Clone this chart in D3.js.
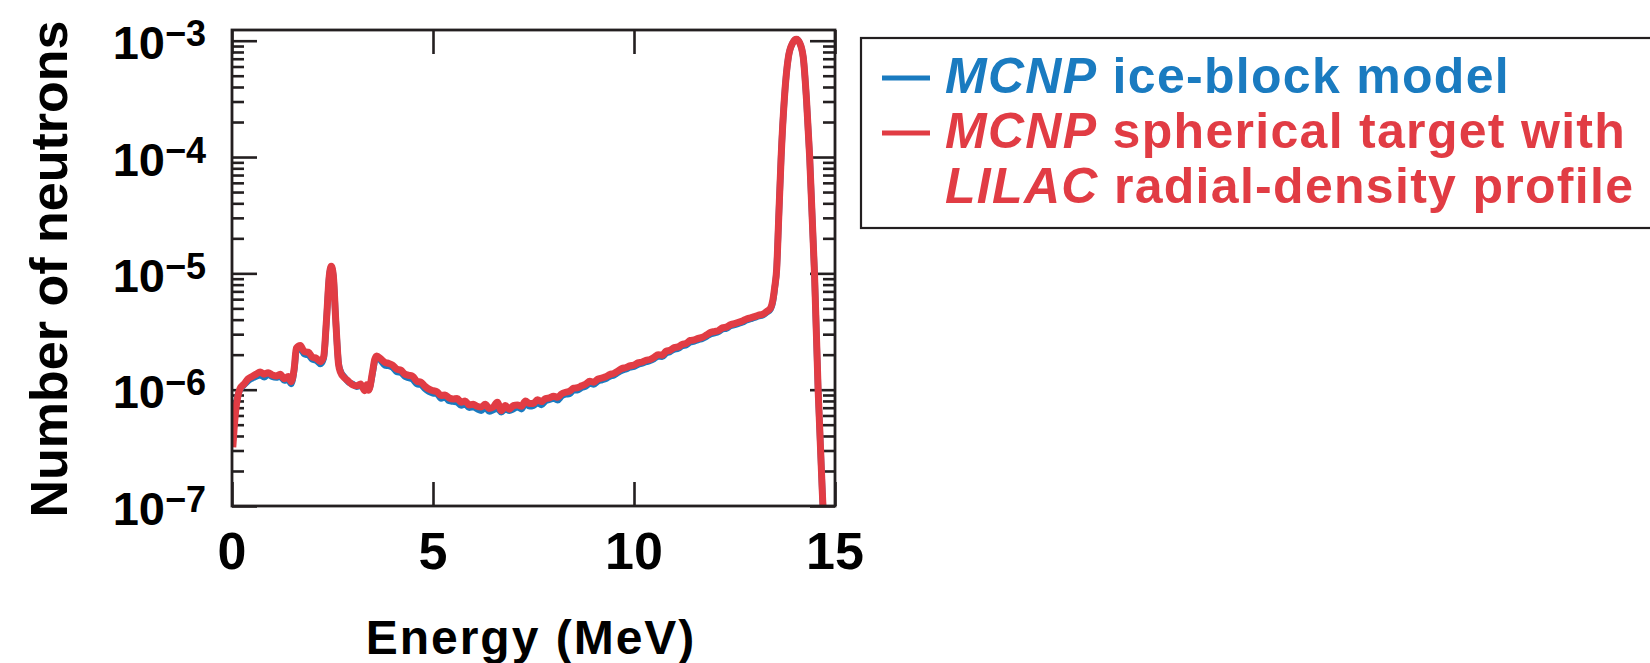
<!DOCTYPE html>
<html lang="en">

<head>
    <meta charset="UTF-8">
    <title>Neutron spectrum</title>
    <script src="https://cdn.jsdelivr.net/npm/d3@7"></script>

    <style>

        body { margin: 0; background: #fff; }

        svg text {
            font-family: "Liberation Sans", Arial, Helvetica, sans-serif;
            font-weight: bold;
        }

        .axis path { display: none; }

        .axis line {
            stroke: #231f20;
            stroke-width: 2.6px;
        }

        .frame {
            fill: none;
            stroke: #231f20;
            stroke-width: 2.8px;
        }

    </style>

</head>

<body>

    <svg width="1650" height="663"></svg>

    <script>

        // energy grid (MeV), shared by both series
        var energy = [0.02, 0.05, 0.1, 0.15, 0.2, 0.3, 0.4, 0.5, 0.6, 0.7, 0.8, 0.9, 1.0, 1.1, 1.2, 1.3, 1.4, 1.47,
            1.55, 1.6, 1.7, 1.8, 1.9, 2.0, 2.1, 2.2, 2.28, 2.35, 2.42, 2.47, 2.52, 2.58, 2.65, 2.7, 2.8, 2.9,
            3.0, 3.1, 3.2, 3.3, 3.35, 3.4, 3.5, 3.55, 3.6, 3.7, 3.8, 3.9, 4.0, 4.1, 4.2, 4.3, 4.4, 4.5, 4.6,
            4.7, 4.8, 4.9, 5.0, 5.1, 5.2, 5.3, 5.4, 5.5, 5.6, 5.7, 5.8, 5.9, 6.0, 6.1, 6.2, 6.3, 6.4, 6.5,
            6.6, 6.7, 6.8, 6.9, 7.0, 7.1, 7.2, 7.3, 7.4, 7.5, 7.6, 7.7, 7.8, 7.9, 8.0, 8.1, 8.2, 8.3, 8.4,
            8.5, 8.6, 8.7, 8.8, 8.9, 9.0, 9.1, 9.2, 9.3, 9.4, 9.5, 9.6, 9.7, 9.8, 9.9, 10.0, 10.1, 10.2,
            10.3, 10.4, 10.5, 10.6, 10.7, 10.8, 10.9, 11.0, 11.1, 11.2, 11.3, 11.4, 11.5, 11.6, 11.7, 11.8,
            11.9, 12.0, 12.1, 12.2, 12.3, 12.4, 12.5, 12.6, 12.7, 12.8, 12.9, 13.0, 13.1, 13.2, 13.3, 13.4,
            13.45, 13.5, 13.55, 13.6, 13.66, 13.74, 13.84, 13.95, 14.04, 14.12, 14.21, 14.29, 14.37, 14.49,
            14.58, 14.7, 14.74];

        // number of neutrons, in units of 1e-6
        var iceBlock = [0.36, 0.50, 0.74, 0.90, 1.00, 1.10, 1.19, 1.25, 1.30, 1.33, 1.28, 1.35, 1.29, 1.27, 1.30, 1.20, 1.22, 1.12,
            1.50, 2.15, 2.25, 2.02, 1.98, 1.82, 1.78, 1.66, 1.85, 3.9, 9.4, 11.3, 9.5, 4.0, 1.70, 1.45, 1.28, 1.16,
            1.12, 1.06, 1.08, 1.02, 1.05, 1.00, 1.40, 1.75, 1.88, 1.78, 1.62, 1.60, 1.55, 1.42, 1.40, 1.30, 1.26, 1.22, 1.12,
            1.10, 1.02, 0.96, 0.93, 0.92, 0.84, 0.86, 0.80, 0.79, 0.78, 0.73, 0.75, 0.70, 0.71, 0.68, 0.66, 0.70, 0.65, 0.67,
            0.69, 0.64, 0.68, 0.66, 0.68, 0.71, 0.68, 0.76, 0.72, 0.73, 0.77, 0.74, 0.80, 0.82, 0.84, 0.81, 0.88, 0.91, 0.92,
            0.99, 0.99, 1.04, 1.07, 1.13, 1.11, 1.18, 1.21, 1.24, 1.30, 1.33, 1.40, 1.46, 1.50, 1.55, 1.58, 1.64, 1.68,
            1.73, 1.77, 1.84, 1.93, 1.92, 2.06, 2.12, 2.22, 2.26, 2.37, 2.42, 2.56, 2.60, 2.68, 2.74, 2.86,
            3.00, 3.06, 3.14, 3.30, 3.36, 3.52, 3.60, 3.70, 3.80, 3.95, 4.05, 4.15, 4.28, 4.36, 4.60, 4.95,
            5.6, 7.4, 11, 30, 100, 316, 720, 960, 1030, 960, 720, 316, 100, 10,
            1.0, 0.1, 0.05];

        var spherical = [0.32, 0.45, 0.70, 0.89, 1.02, 1.12, 1.24, 1.30, 1.36, 1.42, 1.36, 1.40, 1.34, 1.31, 1.36, 1.24, 1.30, 1.17,
            1.55, 2.28, 2.40, 2.12, 2.10, 1.90, 1.86, 1.74, 1.92, 3.98, 9.5, 11.5, 9.6, 4.0, 1.66, 1.41, 1.26, 1.18,
            1.10, 1.08, 1.12, 0.98, 1.10, 0.99, 1.45, 1.82, 1.95, 1.84, 1.72, 1.68, 1.62, 1.50, 1.47, 1.36, 1.33, 1.30, 1.18,
            1.16, 1.07, 1.01, 0.98, 0.96, 0.89, 0.90, 0.85, 0.83, 0.84, 0.78, 0.80, 0.74, 0.75, 0.72, 0.71, 0.75, 0.69, 0.71,
            0.78, 0.66, 0.73, 0.68, 0.73, 0.74, 0.72, 0.80, 0.76, 0.76, 0.82, 0.79, 0.84, 0.85, 0.88, 0.86, 0.92, 0.95, 0.97,
            1.03, 1.04, 1.08, 1.12, 1.18, 1.16, 1.23, 1.26, 1.29, 1.35, 1.38, 1.45, 1.52, 1.55, 1.60, 1.63, 1.70, 1.73,
            1.79, 1.82, 1.90, 2.00, 1.98, 2.14, 2.18, 2.30, 2.33, 2.45, 2.50, 2.65, 2.68, 2.76, 2.82, 2.95,
            3.10, 3.16, 3.22, 3.40, 3.45, 3.62, 3.70, 3.80, 3.90, 4.05, 4.15, 4.25, 4.38, 4.45, 4.70, 5.05,
            5.8, 7.6, 11, 30, 100, 316, 720, 960, 1030, 960, 720, 316, 100, 10,
            1.0, 0.1, 0.05];

        var xTicks = [0, 5, 10, 15];
        var yDecades = [-7, -6, -5, -4, -3];

        var legendLines = [
            { color: "#1a7bc0", parts: [["MCNP", true], [" ice-block model", false]], mark: true },
            { color: "#e13c44", parts: [["MCNP", true], [" spherical target with", false]], mark: true },
            { color: "#e13c44", parts: [["LILAC", true], [" radial-density profile", false]], mark: false }
        ];

        var svg = d3.select("svg");

        var plotL = 232, plotR = 835, plotT = 30, plotB = 506;

        var x = d3.scaleLinear().domain([0, 15]).range([plotL, plotR]);
        var y = d3.scaleLog().domain([1e-7, Math.pow(10, -2.908)]).range([plotB, plotT]);

        // minor ticks 2..9 per decade
        var minor = [];
        yDecades.forEach(function(p) {
            for (var k = 2; k <= 9; k++) {
                var v = k * Math.pow(10, p);
                if (v <= y.domain()[1]) minor.push(v);
            }
        });
        var major = yDecades.map(function(p) { return Math.pow(10, p); });

        // left and right axes, ticks pointing inward
        svg.append("g").attr("class", "axis")
            .attr("transform", "translate(" + plotL + ",0)")
            .call(d3.axisLeft(y).tickValues(minor).tickSize(-12).tickFormat(""));
        svg.append("g").attr("class", "axis")
            .attr("transform", "translate(" + plotL + ",0)")
            .call(d3.axisLeft(y).tickValues(major).tickSize(-25).tickFormat(""));
        svg.append("g").attr("class", "axis")
            .attr("transform", "translate(" + plotR + ",0)")
            .call(d3.axisRight(y).tickValues(minor).tickSize(-12).tickFormat(""));
        svg.append("g").attr("class", "axis")
            .attr("transform", "translate(" + plotR + ",0)")
            .call(d3.axisRight(y).tickValues(major).tickSize(-25).tickFormat(""));

        // top and bottom axes
        svg.append("g").attr("class", "axis")
            .attr("transform", "translate(0," + plotB + ")")
            .call(d3.axisBottom(x).tickValues(xTicks).tickSize(-24).tickFormat(""));
        svg.append("g").attr("class", "axis")
            .attr("transform", "translate(0," + plotT + ")")
            .call(d3.axisTop(x).tickValues(xTicks).tickSize(-24).tickFormat(""));

        // x tick labels
        svg.append("g").selectAll("text")
            .data(xTicks)
            .enter().append("text")
            .attr("x", function(d) { return x(d); })
            .attr("y", 569)
            .attr("text-anchor", "middle")
            .attr("font-size", 52)
            .text(function(d) { return d; });

        // y tick labels 10^-n
        var yl = svg.append("g").selectAll("text")
            .data(yDecades)
            .enter().append("text")
            .attr("x", 206)
            .attr("y", function(d) { return y(Math.pow(10, d)) + 18.5; })
            .attr("text-anchor", "end")
            .attr("font-size", 47);
        yl.append("tspan").text("10");
        yl.append("tspan")
            .attr("dy", -13)
            .attr("font-size", 36)
            .text(function(d) { return "\u2212" + (-d); });

        // axis titles
        svg.append("text")
            .attr("x", 531)
            .attr("y", 654)
            .attr("text-anchor", "middle")
            .attr("font-size", 48)
            .attr("letter-spacing", 2)
            .text("Energy (MeV)");

        svg.append("text")
            .attr("transform", "translate(67,269) rotate(-90)")
            .attr("text-anchor", "middle")
            .attr("font-size", 52)
            .text("Number of neutrons");

        // curves
        svg.append("clipPath").attr("id", "plot-clip")
            .append("rect")
            .attr("x", plotL).attr("y", plotT)
            .attr("width", plotR - plotL).attr("height", plotB - plotT);

        var line = d3.line()
            .x(function(d) { return x(d[0]); })
            .y(function(d) { return y(d[1] * 1e-6); })
            .curve(d3.curveMonotoneX);

        var plot = svg.append("g").attr("clip-path", "url(#plot-clip)");

        plot.append("path")
            .datum(d3.zip(energy, iceBlock))
            .attr("fill", "none")
            .attr("stroke", "#1a7bc0")
            .attr("stroke-width", 6.5)
            .attr("stroke-linejoin", "round")
            .attr("d", line);

        plot.append("path")
            .datum(d3.zip(energy, spherical))
            .attr("fill", "none")
            .attr("stroke", "#e13c44")
            .attr("stroke-width", 7)
            .attr("stroke-linejoin", "round")
            .attr("d", line);

        // frame
        svg.append("rect")
            .attr("class", "frame")
            .attr("x", plotL).attr("y", plotT)
            .attr("width", plotR - plotL).attr("height", plotB - plotT);

        // legend
        var legend = svg.append("g");

        legend.append("rect")
            .attr("x", 861).attr("y", 38)
            .attr("width", 820).attr("height", 190)
            .attr("fill", "none")
            .attr("stroke", "#231f20")
            .attr("stroke-width", 2.2);

        legendLines.forEach(function(l, i) {
            var by = 93 + i * 55;
            if (l.mark) {
                legend.append("line")
                    .attr("x1", 882).attr("x2", 930)
                    .attr("y1", by - 15).attr("y2", by - 15)
                    .attr("stroke", l.color)
                    .attr("stroke-width", 5);
            }
            var t = legend.append("text")
                .attr("x", 945)
                .attr("y", by)
                .attr("font-size", 50)
                .attr("letter-spacing", 1.3)
                .attr("fill", l.color);
            l.parts.forEach(function(p) {
                t.append("tspan")
                    .attr("font-style", p[1] ? "italic" : "normal")
                    .text(p[0]);
            });
        });

    </script>

</body>

</html>
